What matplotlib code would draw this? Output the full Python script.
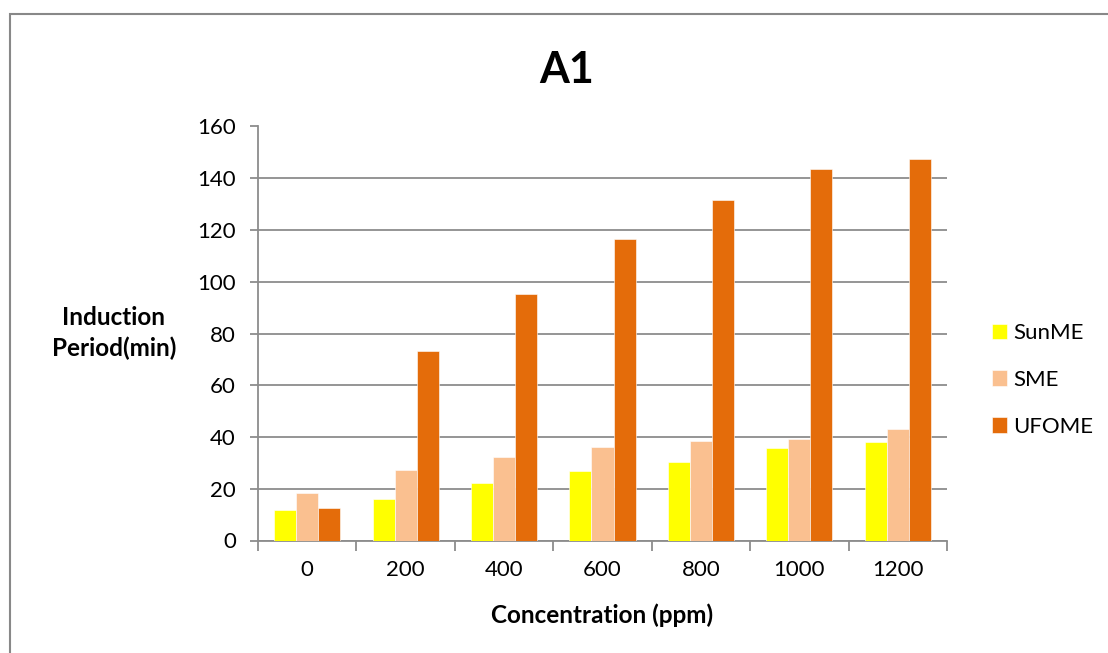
import matplotlib
matplotlib.use("Agg")
import matplotlib.pyplot as plt
from matplotlib.patches import Rectangle
import numpy as np

plt.rcParams['font.family'] = ['Lato', 'DejaVu Sans']

concentrations = ["0", "200", "400", "600", "800", "1000", "1200"]
series_names = ["SunME", "SME", "UFOME"]
sunme = [11.7, 16.0, 22.3, 27.0, 30.3, 35.6, 38.2]
sme = [18.5, 27.2, 32.3, 36.1, 38.5, 39.4, 43.1]
ufome = [12.7, 73.2, 95.3, 116.4, 131.6, 143.4, 147.6]
colors = ["#FFFF00", "#FAC090", "#E46C0A"]

W, H = 1108, 653
fig = plt.figure(figsize=(W / 100, H / 100), dpi=100)
fig.patch.set_facecolor("white")

# outer chart frame
fig.add_artist(Rectangle((10 / W, -0.05), 1.2, (H - 14) / H + 0.05,
                         transform=fig.transFigure, fill=False,
                         edgecolor="#888888", linewidth=1.5))

ax = fig.add_axes([258 / W, (H - 540.5) / H, 689 / W, 414 / H])

x = np.arange(len(concentrations))
width = 0.224
grid_color = "#8C8C8C"
for i, (vals, name, col) in enumerate(zip([sunme, sme, ufome], series_names, colors)):
    ax.bar(x + (i - 1) * width, vals, width, color=col, label=name,
           edgecolor="white", linewidth=0.4, zorder=3)

ax.set_xlim(-0.5, len(concentrations) - 0.5)
ax.set_ylim(0, 160)
ax.set_yticks(np.arange(0, 161, 20))
ax.yaxis.grid(True, color=grid_color, linewidth=1.3, zorder=0)
ax.set_axisbelow(True)

ax.set_xticks(x)
ax.set_xticklabels(concentrations)
ax.set_xticks(np.arange(-0.5, len(concentrations)), minor=True)
ax.tick_params(axis="x", which="major", length=0, pad=14, labelsize=16)
ax.tick_params(axis="x", which="minor", length=7, width=1.3, color=grid_color, direction="out")
ax.tick_params(axis="y", length=6, width=1.3, color=grid_color, pad=10, labelsize=16)

for side in ["top", "right"]:
    ax.spines[side].set_visible(False)
for side in ["left", "bottom"]:
    ax.spines[side].set_color(grid_color)
    ax.spines[side].set_linewidth(1.3)

fig.text(567 / W, 1 - 70 / H, "A1", ha="center", va="center",
         fontsize=31, fontweight="bold")
fig.text(114 / W, 1 - 333 / H, "Induction\nPeriod(min)", ha="center", va="center",
         fontsize=17.5, fontweight="bold", linespacing=1.4)
fig.text(602 / W, 1 - 615 / H, "Concentration (ppm)", ha="center", va="center",
         fontsize=17.5, fontweight="bold")

handles, labels = ax.get_legend_handles_labels()
fig.legend(handles, labels, loc="center left", bbox_to_anchor=(992 / W, 1 - 380 / H),
           frameon=False, fontsize=16, handlelength=0.68, handleheight=0.72,
           handletextpad=0.27, labelspacing=1.2, borderpad=0, borderaxespad=0)

fig.savefig("out.png", dpi=100, facecolor="white")
